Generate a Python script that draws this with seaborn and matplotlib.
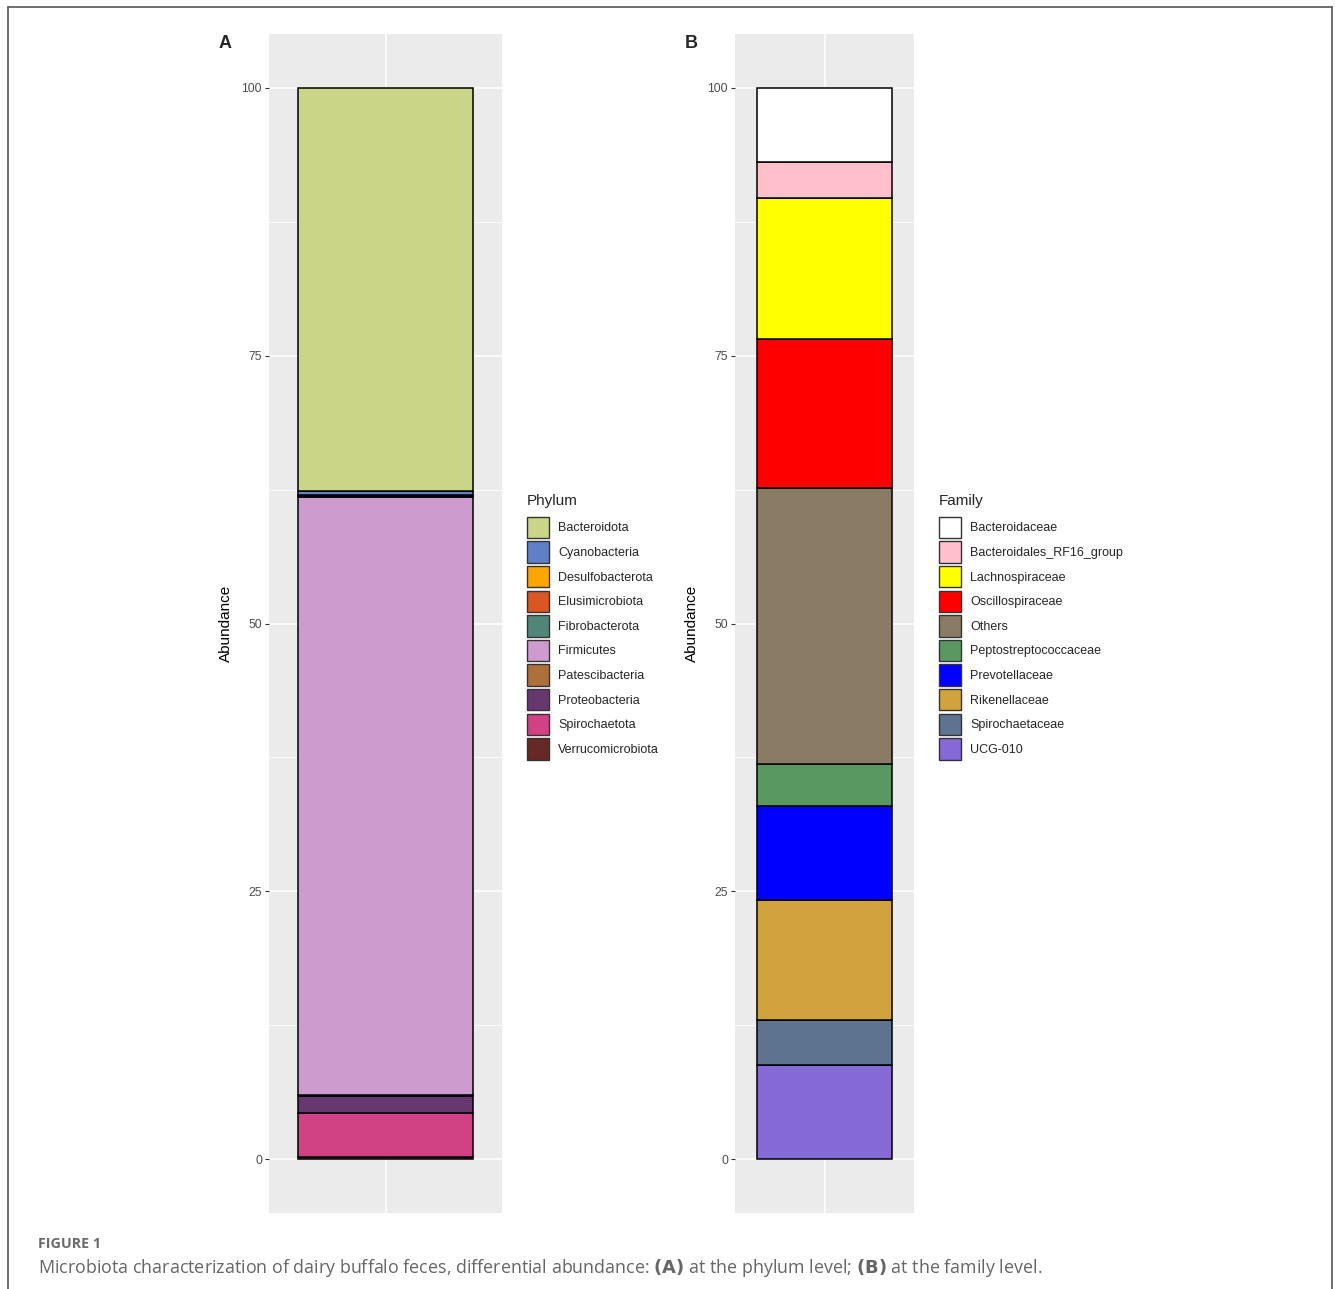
import numpy as np
import pandas as pd
import matplotlib.pyplot as plt
import seaborn as sns
from matplotlib.patches import Patch
from matplotlib.lines import Line2D

# ---- data (% abundance) ----
phylum_names = ['Bacteroidota', 'Cyanobacteria', 'Desulfobacterota', 'Elusimicrobiota',
                'Fibrobacterota', 'Firmicutes', 'Patescibacteria', 'Proteobacteria',
                'Spirochaetota', 'Verrucomicrobiota']
phylum_values = [37.6, 0.45, 0.05, 0.05, 0.05, 55.8, 0.05, 1.65, 4.1, 0.2]
phylum_colors = ['#CBD588', '#5F7FC7', '#FFA500', '#DA5724', '#508578',
                 '#CD9BCD', '#AD6F3B', '#673770', '#D14285', '#652926']

family_names = ['Bacteroidaceae', 'Bacteroidales_RF16_group', 'Lachnospiraceae',
                'Oscillospiraceae', 'Others', 'Peptostreptococcaceae', 'Prevotellaceae',
                'Rikenellaceae', 'Spirochaetaceae', 'UCG-010']
family_values = [6.9, 3.4, 13.2, 13.9, 25.7, 3.9, 8.8, 11.2, 4.2, 8.8]
family_colors = ['#FFFFFF', '#FFC0CB', '#FFFF00', '#FF0000', '#8A7C64',
                 '#599861', '#0000FF', '#D1A33D', '#5E738F', '#8569D5']

y_ticks = [0, 25, 50, 75, 100]

sns.set_theme(style='darkgrid', rc={'axes.facecolor': '#EBEBEB', 'grid.color': 'white'})
plt.rcParams['font.family'] = ['Liberation Sans', 'DejaVu Sans']

W, H = 1335, 1289
fig = plt.figure(figsize=(W / 100, H / 100), dpi=100)


def panel(left, width, names, values, colors, title, letter):
    ax = fig.add_axes([left / W, 1 - 1213 / H, width / W, (1213 - 34) / H])
    df = pd.DataFrame({'sample': 1, 'taxon': names, 'abund': values})
    sns.histplot(data=df, x='sample', weights='abund', hue='taxon', hue_order=names,
                 palette=colors, multiple='stack', discrete=True, shrink=0.9,
                 edgecolor='black', linewidth=1.1, alpha=1, legend=False, ax=ax)
    ax.set_xlim(0.4, 1.6)
    ax.set_ylim(-5, 105)
    ax.set_xticks([1])
    ax.set_xticklabels([])
    ax.set_yticks(y_ticks)
    ax.set_yticklabels([str(t) for t in y_ticks], fontsize=8.8, color='#4D4D4D')
    ax.set_yticks([12.5, 37.5, 62.5, 87.5], minor=True)
    ax.grid(True, which='major', color='white', linewidth=1.1)
    ax.grid(True, which='minor', axis='y', color='white', linewidth=0.55)
    ax.tick_params(axis='y', which='major', length=3, width=0.8, color='#333333',
                   left=True, pad=2)
    ax.tick_params(axis='y', which='minor', length=0)
    ax.tick_params(axis='x', length=0)
    ax.set_xlabel('')
    ax.set_ylabel('Abundance', fontsize=11, color='black', labelpad=6)
    for s in ax.spines.values():
        s.set_visible(False)
    fig.text((left - 50) / W, 1 - 43 / H, letter, fontsize=13,
             fontweight='bold', va='center', ha='left')
    handles = [Patch(facecolor=c, edgecolor='#333333', linewidth=1.0, label=n)
               for n, c in zip(names, colors)]
    leg = fig.legend(handles=handles, title=title, loc='center left',
                     bbox_to_anchor=((left + width + 25) / W, 1 - 627 / H),
                     frameon=False, fontsize=9, title_fontsize=11,
                     handlelength=1.75, handleheight=2.25, labelspacing=0.26,
                     handletextpad=0.75, borderpad=0, borderaxespad=0)
    leg._legend_box.align = 'left'
    leg._legend_box.sep = 6
    return ax


panel(269, 233, phylum_names, phylum_values, phylum_colors, 'Phylum', 'A')
panel(735, 179, family_names, family_values, family_colors, 'Family', 'B')

# figure frame (left, top, right)
fig.add_artist(Line2D([8 / W, 8 / W], [0, 1 - 7 / H], transform=fig.transFigure,
                      color='#555555', linewidth=1.2))
fig.add_artist(Line2D([8 / W, 1332 / W], [1 - 7 / H, 1 - 7 / H], transform=fig.transFigure,
                      color='#555555', linewidth=1.2))
fig.add_artist(Line2D([1332 / W, 1332 / W], [0, 1 - 7 / H], transform=fig.transFigure,
                      color='#555555', linewidth=1.2))

fig.text(38 / W, 1 - 1244 / H, 'FIGURE 1', fontsize=10.3, fontweight='bold',
         color='#6B6B6B', va='center', ha='left', family='Open Sans')
fig.text(38 / W, 1 - 1268 / H,
         'Microbiota characterization of dairy buffalo feces, differential abundance: '
         r'$\bf{(A)}$ at the phylum level; $\bf{(B)}$ at the family level.',
         fontsize=12.9, color='#666666', va='center', ha='left', family='Open Sans')

fig.savefig('out.png', dpi=100)
